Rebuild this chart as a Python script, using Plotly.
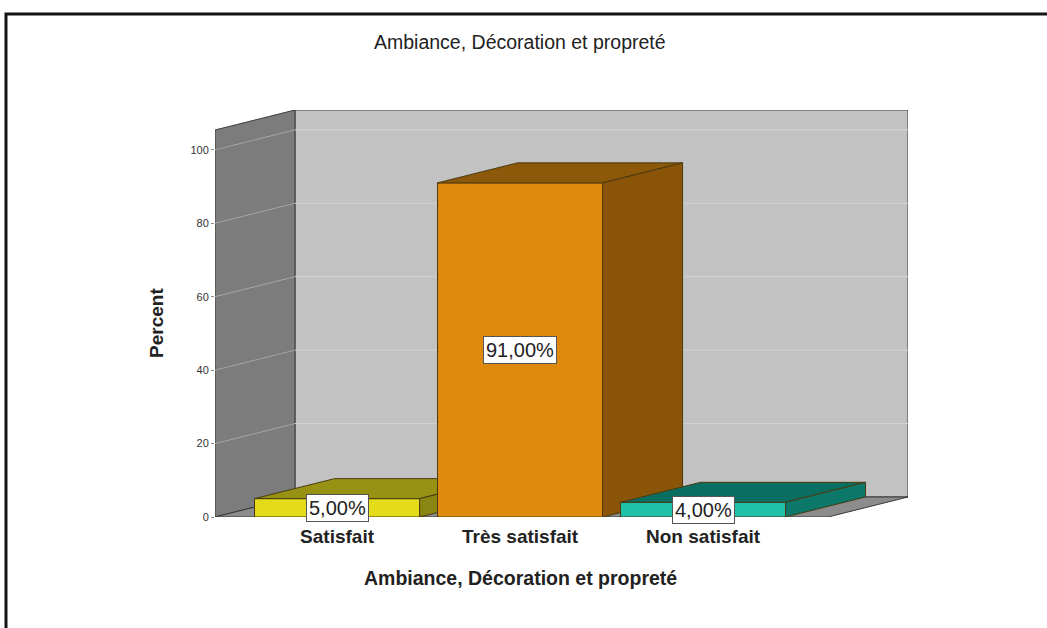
import plotly.graph_objects as go

# --- data -------------------------------------------------------------
categories = ["Satisfait", "Très satisfait", "Non satisfait"]
percents = [5.0, 91.0, 4.0]
y_ticks = [0, 20, 40, 60, 80, 100]

front_colors = ["#e4dc18", "#e0890f", "#1fc2a8"]
top_colors = ["#979214", "#8c580a", "#0b6e62"]
side_colors = ["#8b8611", "#8a5508", "#0c786a"]

# --- 3D geometry (data units) ----------------------------------------
DX = 0.437          # depth shift along x (category units)
DY = 5.45           # depth shift along y (percent units)
HALF_W = 0.451      # half bar width
X_LEFT = -0.667     # front-left corner of the floor
X_RIGHT = 2.683     # front-right corner of the floor
Y_TOP = 105.4       # front top of the left wall

FONT = "Liberation Sans, Arial, sans-serif"
EDGE = "#3a3a3a"

fig = go.Figure()


def poly(xs, ys, fill, line_color=EDGE, width=1):
    fig.add_trace(go.Scatter(
        x=xs + [xs[0]], y=ys + [ys[0]], mode="lines", fill="toself",
        fillcolor=fill, line=dict(color=line_color, width=width),
        hoverinfo="skip", showlegend=False, cliponaxis=False))


def seg(xs, ys, color, width=1):
    fig.add_trace(go.Scatter(
        x=xs, y=ys, mode="lines", line=dict(color=color, width=width),
        hoverinfo="skip", showlegend=False, cliponaxis=False))


# back wall
poly([X_LEFT + DX, X_RIGHT + DX, X_RIGHT + DX, X_LEFT + DX],
     [DY, DY, Y_TOP + DY, Y_TOP + DY], "#c2c2c2")
# left wall
poly([X_LEFT, X_LEFT + DX, X_LEFT + DX, X_LEFT],
     [0, DY, Y_TOP + DY, Y_TOP], "#7c7c7c")
# gridlines on both walls
for v in y_ticks[1:]:
    seg([X_LEFT + DX, X_RIGHT + DX], [v + DY, v + DY], "#d2d2d2")
    seg([X_LEFT, X_LEFT + DX], [v, v + DY], "#a4a4a4")
# floor
poly([X_LEFT, X_RIGHT, X_RIGHT + DX, X_LEFT + DX],
     [0, 0, DY, DY], "#8c8c8c")

# bars, drawn left to right
for i, v in enumerate(percents):
    x0, x1 = i - HALF_W, i + HALF_W
    poly([x0, x1, x1, x0], [0, 0, v, v], front_colors[i], "#4a3a10")
    poly([x0, x1, x1 + DX, x0 + DX], [v, v, v + DY, v + DY],
         top_colors[i], "#4a3a10")
    poly([x1, x1 + DX, x1 + DX, x1], [0, DY, v + DY, v],
         side_colors[i], "#4a3a10")
    fig.add_annotation(
        x=i, y=v / 2, xref="x", yref="y",
        text=f"{v:.2f}%".replace(".", ","), showarrow=False,
        xanchor="center", yanchor="middle",
        font=dict(family=FONT, size=20, color="#222222"),
        bgcolor="white", bordercolor="#555555", borderwidth=1, borderpad=2)

# titles
fig.add_annotation(x=1.0, y=1.167, xref="x", yref="paper",
                   xanchor="center", yanchor="middle",
                   text="Ambiance, Décoration et propreté", showarrow=False,
                   font=dict(family=FONT, size=19.5, color="#222222"))
fig.add_annotation(x=1.0, y=-0.15, xref="x", yref="paper",
                   xanchor="center", yanchor="middle",
                   text="<b>Ambiance, Décoration et propreté</b>",
                   showarrow=False,
                   font=dict(family=FONT, size=19.5, color="#222222"))
fig.add_annotation(x=-0.0837, y=0.4767, xref="paper", yref="paper",
                   xanchor="center", yanchor="middle",
                   text="<b>Percent</b>", textangle=-90, showarrow=False,
                   font=dict(family=FONT, size=19, color="#222222"))

# outer frame
fig.add_shape(type="rect", xref="paper", yref="paper",
              x0=-0.3016, x1=1.21, y0=-0.29, y1=1.2359,
              line=dict(color="#151515", width=3), fillcolor="rgba(0,0,0,0)")

fig.update_layout(
    width=1047, height=628,
    margin=dict(l=215, r=139, t=110, b=111),
    paper_bgcolor="white", plot_bgcolor="white",
    xaxis=dict(range=[X_LEFT, X_RIGHT + DX], showgrid=False, zeroline=False,
               showline=False, tickmode="array", tickvals=[0, 1, 2],
               ticktext=[f"<b>{c}</b>" for c in categories],
               tickfont=dict(family=FONT, size=19, color="#222222"),
               ticks="", ticklabelstandoff=6, fixedrange=True),
    yaxis=dict(range=[0, Y_TOP + DY], showgrid=False, zeroline=False,
               showline=False, tickmode="array", tickvals=y_ticks,
               ticks="outside", ticklen=3, tickcolor="#888888",
               tickfont=dict(family=FONT, size=11, color="#333333"),
               fixedrange=True),
)

fig.write_html("out.html")
